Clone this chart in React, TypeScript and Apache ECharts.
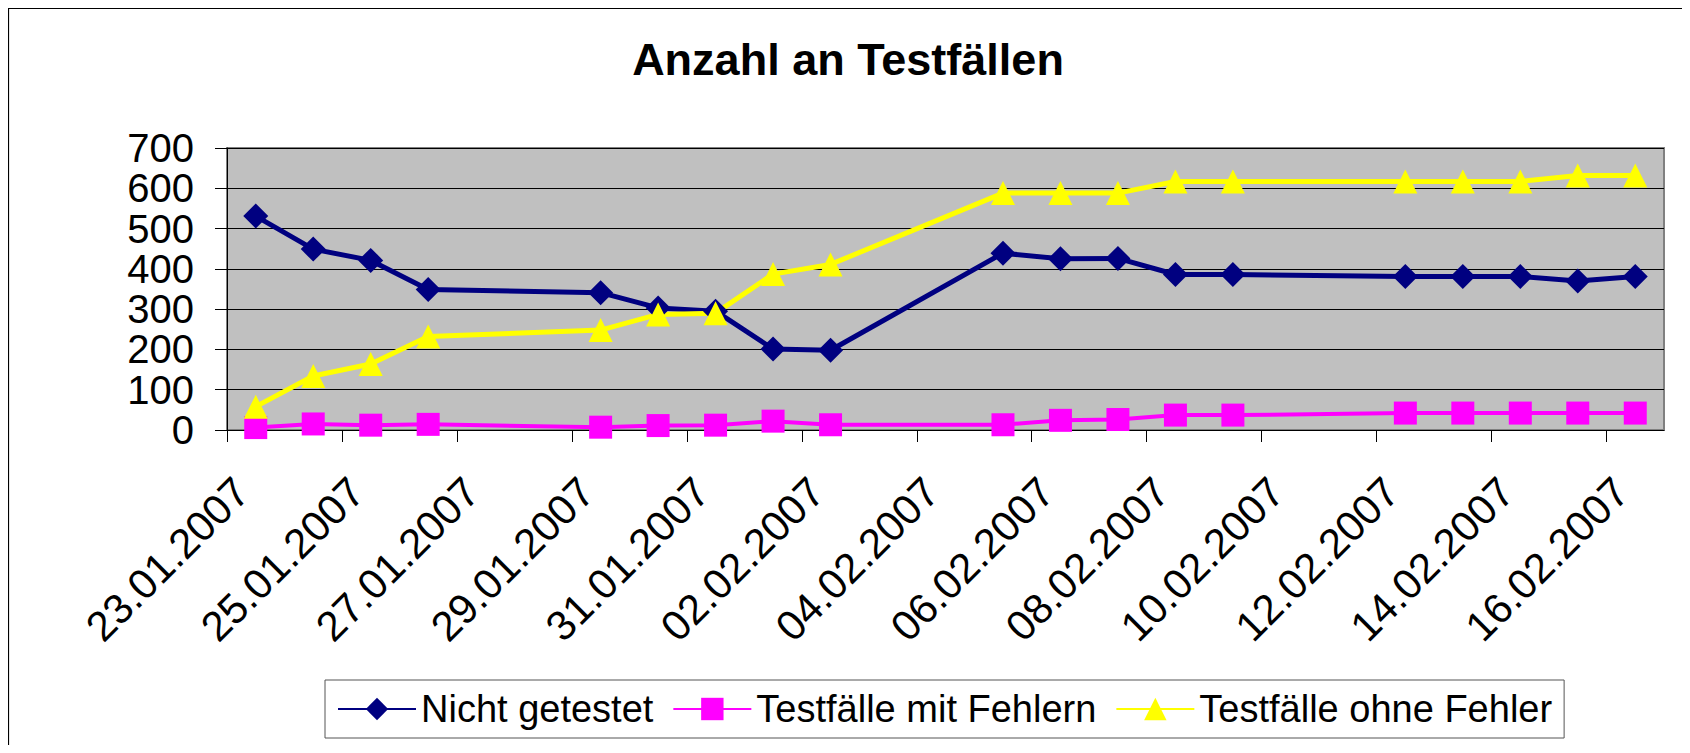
import React, { useEffect, useRef } from "react";
import * as echarts from "echarts";

const titleText = "Anzahl an Testfällen";
const dates = [
  "23.01.2007", "24.01.2007", "25.01.2007", "26.01.2007", "29.01.2007",
  "30.01.2007", "31.01.2007", "01.02.2007", "02.02.2007", "05.02.2007",
  "06.02.2007", "07.02.2007", "08.02.2007", "09.02.2007", "12.02.2007",
  "13.02.2007", "14.02.2007", "15.02.2007", "16.02.2007",
];
const nichtGetestet = [531, 449, 421, 349, 341, 303, 295, 201, 198, 439, 425, 426, 386, 386, 381, 381, 381, 370, 381];
const mitFehlern = [6, 15, 12, 14, 7, 11, 12, 22, 13, 13, 24, 26, 37, 37, 42, 42, 42, 42, 42];
const ohneFehler = [58, 134, 164, 232, 248, 287, 290, 387, 411, 588, 588, 588, 617, 617, 617, 617, 617, 632, 632];
const xTickLabels = [
  "23.01.2007", "25.01.2007", "27.01.2007", "29.01.2007", "31.01.2007",
  "02.02.2007", "04.02.2007", "06.02.2007", "08.02.2007", "10.02.2007",
  "12.02.2007", "14.02.2007", "16.02.2007",
];
const seriesNames = ["Nicht getestet", "Testfälle mit Fehlern", "Testfälle ohne Fehler"];
const axisStart = "23.01.2007";
const axisEnd = "17.02.2007";

const FONT = "'Liberation Sans', Arial, sans-serif";

function toUtc(d: string): number {
  const [dd, mm, yy] = d.split(".").map(Number);
  return Date.UTC(yy, mm - 1, dd);
}
const DAY = 86400000;
function dayIndex(d: string): number {
  return Math.round((toUtc(d) - toUtc(axisStart)) / DAY);
}

export default function App() {
  const ref = useRef<HTMLDivElement>(null);
  useEffect(() => {
    if (!ref.current) return;
    const chart = echarts.init(ref.current, null, { renderer: "svg" });
    const mk = (vals: number[]) => dates.map((d, i) => [dayIndex(d) + 0.5, vals[i]]);
    const span = dayIndex(axisEnd);
    chart.setOption({
      animation: false,
      backgroundColor: "#ffffff",
      graphic: [
        { type: "line", shape: { x1: 0.5, y1: 0, x2: 0.5, y2: 737 }, style: { stroke: "#000", lineWidth: 1.2 } },
        { type: "line", shape: { x1: 0, y1: 0.5, x2: 1674, y2: 0.5 }, style: { stroke: "#000", lineWidth: 1.2 } },
        {
          type: "text",
          x: 840,
          y: 51,
          style: {
            text: titleText,
            fontSize: 45,
            fontWeight: "bold",
            fontFamily: FONT,
            fill: "#000",
            align: "center",
            verticalAlign: "middle",
          },
        },
      ],
      grid: {
        left: 219,
        top: 140,
        width: 1437,
        height: 282,
        show: true,
        backgroundColor: "#C0C0C0",
        borderColor: "#808080",
        borderWidth: 2,
        containLabel: false,
        outerBoundsMode: "none",
      },
      legend: {
        left: 317,
        top: 672,
        orient: "horizontal",
        padding: [10, 12, 10, 12],
        itemGap: 19,
        itemWidth: 78,
        itemHeight: 28,
        borderColor: "#555",
        borderWidth: 1,
        textStyle: { fontSize: 38, fontFamily: FONT, color: "#000", lineHeight: 38 },
        data: seriesNames,
      },
      xAxis: {
        type: "value",
        min: 0,
        max: span,
        interval: 2,
        splitLine: { show: false },
        axisLine: { show: true, lineStyle: { color: "#000", width: 1 } },
        axisTick: { show: true, length: 12, lineStyle: { color: "#000" } },
        axisLabel: {
          rotate: 45,
          margin: 40,
          verticalAlign: "top",
          fontSize: 42,
          fontFamily: FONT,
          color: "#000",
          showMaxLabel: false,
          formatter: (v: number) => {
            const idx = Math.round(v / 2);
            return Number.isInteger(v / 2) && idx < xTickLabels.length ? xTickLabels[idx] : "";
          },
        },
      },
      yAxis: {
        type: "value",
        min: 0,
        max: 700,
        interval: 100,
        splitLine: { show: true, lineStyle: { color: "#000", width: 1 } },
        axisLine: { show: true, lineStyle: { color: "#000", width: 1 } },
        axisTick: { show: true, length: 12, lineStyle: { color: "#000" } },
        axisLabel: { margin: 33, fontSize: 40, fontFamily: FONT, color: "#000" },
      },
      series: [
        {
          name: seriesNames[0],
          type: "line",
          data: mk(nichtGetestet),
          symbol: "diamond",
          symbolSize: 25,
          lineStyle: { color: "#000080", width: 5 },
          itemStyle: { color: "#000080" },
        },
        {
          name: seriesNames[1],
          type: "line",
          data: mk(mitFehlern),
          symbol: "rect",
          symbolSize: 23,
          lineStyle: { color: "#FF00FF", width: 4 },
          itemStyle: { color: "#FF00FF" },
        },
        {
          name: seriesNames[2],
          type: "line",
          data: mk(ohneFehler),
          symbol: "triangle",
          symbolSize: 24,
          lineStyle: { color: "#FFFF00", width: 5 },
          itemStyle: { color: "#FFFF00" },
        },
      ],
    });
    return () => chart.dispose();
  }, []);
  return <div ref={ref} style={{ width: 1674, height: 737 }} />;
}
